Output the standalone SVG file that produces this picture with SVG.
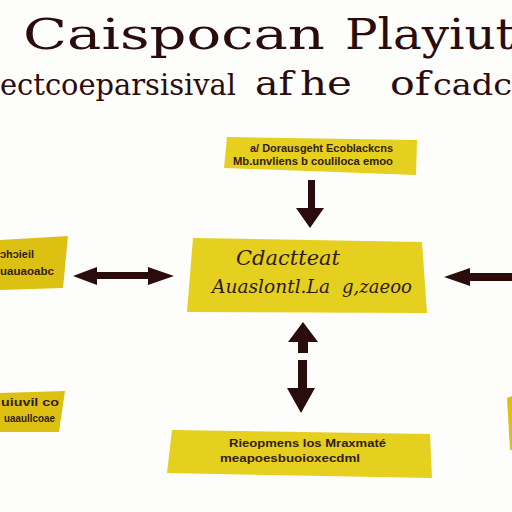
<svg xmlns="http://www.w3.org/2000/svg" width="512" height="512" viewBox="0 0 512 512">
<style>
.bg{fill:#fdfdfc}
.box{fill:#e5cf1f}
.boxd{fill:#dcc012}
.title{font-family:"DejaVu Serif","Liberation Serif",serif;fill:#2a0c0c}
.lbl{font-family:"Liberation Sans","DejaVu Sans",sans-serif;fill:#33200a;font-weight:bold}
.lblc{font-family:"DejaVu Serif","Liberation Serif",serif;fill:#2e1a08;font-style:italic}
.arr{fill:#2b0c0c}
</style>
<rect class="bg" x="0" y="0" width="512" height="512"/>
<g id="title">
<text class="title" x="23" y="49" font-size="42" textLength="302" lengthAdjust="spacingAndGlyphs">Caispocan</text>
<text class="title" x="345" y="49" font-size="42" textLength="170" lengthAdjust="spacingAndGlyphs">Playiut</text>
<text class="title" x="0" y="95" font-size="30" textLength="236" lengthAdjust="spacingAndGlyphs">ectcoeparsisival</text>
<text class="title" x="255" y="95" font-size="34" textLength="38" lengthAdjust="spacingAndGlyphs">af</text>
<text class="title" x="300" y="95" font-size="34" textLength="52" lengthAdjust="spacingAndGlyphs">he</text>
<text class="title" x="390" y="95" font-size="34" textLength="40" lengthAdjust="spacingAndGlyphs">of</text>
<text class="title" x="433" y="95" font-size="30" textLength="79" lengthAdjust="spacingAndGlyphs">cadc</text>
</g>
<g id="node-top">
<polygon class="box" points="227,137 417,140 416,175 224,168"/>
<text class="lbl" x="250" y="152" font-size="10" textLength="143" lengthAdjust="spacingAndGlyphs">a/ Dorausgeht Ecoblackcns</text>
<text class="lbl" x="233" y="165" font-size="10" textLength="160" lengthAdjust="spacingAndGlyphs">Mb.unvliens b couliloca emoo</text>
</g>
<g id="node-center">
<polygon class="box" points="193,238 422,242 427,313 187,312"/>
<text class="lblc" x="236" y="265" font-size="20" textLength="104" lengthAdjust="spacingAndGlyphs">Cdactteat</text>
<text class="lblc" x="212" y="293" font-size="18" textLength="118" lengthAdjust="spacingAndGlyphs">Auaslontl.La</text>
<text class="lblc" x="342" y="293" font-size="18" textLength="70" lengthAdjust="spacingAndGlyphs">g,zaeoo</text>
</g>
<g id="node-left">
<polygon class="boxd" points="0,240 68,236 63,288 0,290"/>
<text class="lbl" x="0" y="258" font-size="10" textLength="34" lengthAdjust="spacingAndGlyphs">ɔhɔieil</text>
<text class="lbl" x="0" y="275" font-size="10" textLength="54" lengthAdjust="spacingAndGlyphs">uauaoabc</text>
</g>
<g id="node-bottom-left">
<polygon class="boxd" points="0,393 65,391 59,432 0,432"/>
<text class="lbl" x="1" y="406" font-size="10" textLength="58" lengthAdjust="spacingAndGlyphs">uiuvil  co</text>
<text class="lbl" x="4" y="422" font-size="10" textLength="51" lengthAdjust="spacingAndGlyphs">uaaullcoae</text>
</g>
<g id="node-bottom">
<polygon class="box" points="172,430 430,434 432,478 167,473"/>
<text class="lbl" x="229" y="447" font-size="11" textLength="157" lengthAdjust="spacingAndGlyphs">Rieopmens los Mraxmaté</text>
<text class="lbl" x="220" y="462" font-size="11" textLength="140" lengthAdjust="spacingAndGlyphs">meapoesbuoioxecdml</text>
</g>
<g id="node-right">
<polygon class="boxd" points="507,398 512,396 512,450 510,450"/>
</g>
<g id="connectors">
<polygon class="arr" points="308,180 315,180 315,208 324,208 310,228 296,208 308,208"/>
<polygon class="arr" points="73,276 97,267 97,272 148,272 148,267 174,276 148,285 148,279 97,279 97,285"/>
<polygon class="arr" points="444,277 470,268 470,273 512,273 512,281 470,281 470,286"/>
<polygon class="arr" points="303,322 318,342 308,342 308,353 298,353 298,342 288,342"/>
<polygon class="arr" points="298,360 307,360 307,388 315,388 301,413 287,388 298,388"/>
</g>
</svg>
